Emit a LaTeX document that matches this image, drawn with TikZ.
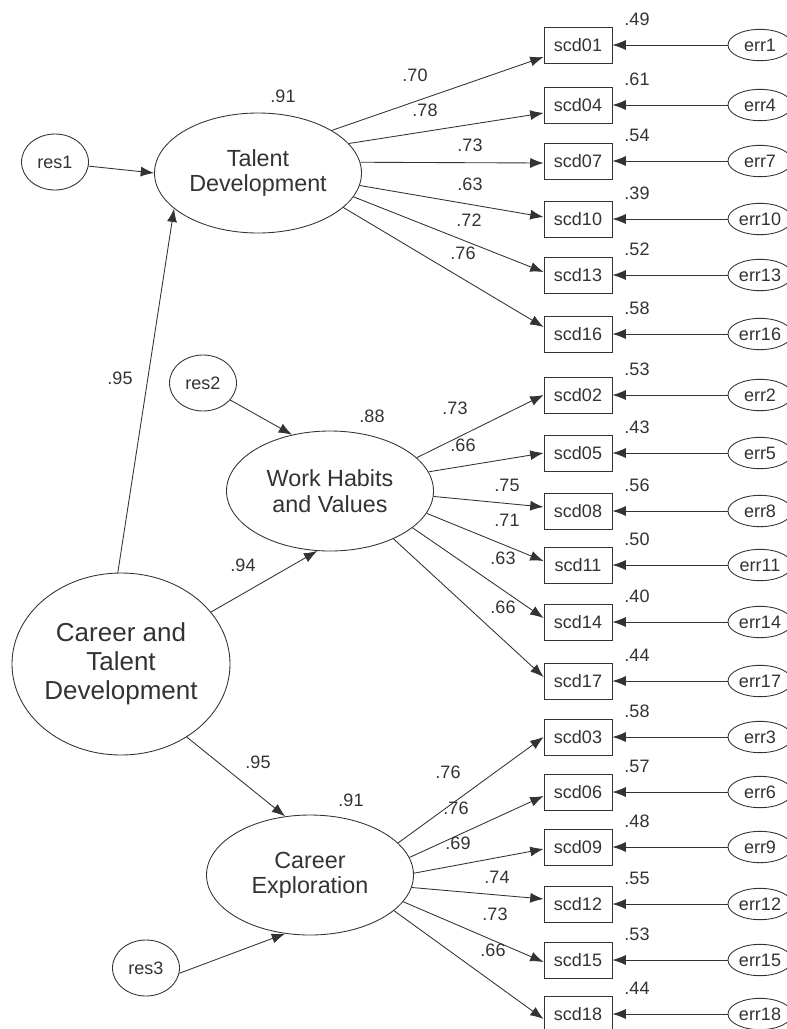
\documentclass[tikz,border=0pt]{standalone}
\usepackage{fontspec}
\setmainfont{Liberation Sans}
\usetikzlibrary{calc,arrows.meta,shapes.geometric}
\definecolor{ink}{gray}{0.2}
\begin{document}
\begin{tikzpicture}[x=0.75pt,y=-0.75pt,
  lat/.style={ellipse,draw=ink,line width=0.65pt,inner sep=0pt,text=ink,
    minimum width=155.25pt,minimum height=90pt,align=center,
    font=\fontsize{17.5}{19}\selectfont},
  big/.style={lat,minimum width=163.5pt,minimum height=136.5pt,
    font=\fontsize{19.5}{21.75}\selectfont},
  resn/.style={ellipse,draw=ink,line width=0.65pt,inner sep=0pt,text=ink,
    minimum width=50.25pt,minimum height=42pt,font=\fontsize{13.5}{15}\selectfont},
  errn/.style={ellipse,draw=ink,line width=0.65pt,inner sep=0pt,text=ink,
    minimum width=48pt,minimum height=23.5pt,font=\fontsize{13.5}{15}\selectfont},
  obs/.style={rectangle,draw=ink,line width=0.65pt,inner sep=0pt,text=ink,
    minimum width=51pt,minimum height=27pt,font=\fontsize{13.5}{15}\selectfont},
  lab/.style={inner sep=0pt,text=ink,font=\fontsize{13.5}{15}\selectfont},
  arr/.style={draw=ink,line width=0.65pt,-{Latex[length=10pt,width=7.5pt]}}]
\fill[white] (0,0) rectangle (787,1029);
\useasboundingbox (0,0) rectangle (787,1029);

% latent variables
\node[lat] (TD) at (258,173) {Talent\\Development};
\node[lat] (WHV) at (330,491) {Work Habits\\and Values};
\node[lat] (CE) at (310,875) {Career\\Exploration};
\node[big] (CTD) at (121,664) {Career and\\Talent\\Development};

% residuals
\node[resn] (res1) at (55,162) {res1};
\node[resn] (res2) at (203,383) {res2};
\node[resn] (res3) at (146,968) {res3};

% observed variables, errors, R^2
\foreach \n/\e/\y/\r in {01/1/45/.49, 04/4/105/.61, 07/7/161/.54, 10/10/219/.39,
    13/13/275/.52, 16/16/334/.58, 02/2/395/.53, 05/5/453/.43, 08/8/511/.56,
    11/11/565/.50, 14/14/622/.40, 17/17/681/.44, 03/3/737/.58, 06/6/792/.57,
    09/9/847/.48, 12/12/904/.55, 15/15/960/.53, 18/18/1014/.44} {
  \node[obs] (s\n) at (578,\y) {scd\n};
  \node[errn] (err\e) at (760,\y) {err\e};
  \draw[arr] (err\e) -- (s\n);
  \node[lab] at ($(s\n.center)+(59,-26)$) {\r};
}

% structural paths
\draw[arr] (res1.-7) -- (TD.west);
\draw[arr] (res2.-32) -- (WHV.124);
\draw[arr] (res3.-9) -- (CE.247);
\draw[arr] (CTD.92) -- (TD.203);
\draw[arr] (CTD.30) -- (WHV.258);
\draw[arr] (CTD.312) -- (CE.113);
\node[lab] at (120,378) {.95};
\node[lab] at (243,565) {.94};
\node[lab] at (258,762) {.95};

% squared multiple correlations of latents
\node[lab] at (283,96) {.91};
\node[lab] at (372,416) {.88};
\node[lab] at (351,800) {.91};

% loadings
\foreach \f/\n/\a/\t/\ld/\lx/\ly in {
    TD/01/30/12/.70/415/75, TD/04/18/8/.78/425/110, TD/07/6/2/.73/470/145,
    TD/10/-7/-2/.63/470/184, TD/13/-14/-3/.72/469/220, TD/16/-22/-7/.76/463/253,
    WHV/02/21/0/.73/455/408, WHV/05/11/0/.66/463/445, WHV/08/-3/-4/.75/507/485,
    WHV/11/-13/-4/.71/507/520, WHV/14/-24/-4/.63/503/558, WHV/17/-37/-4/.66/503/607,
    CE/03/20/0/.76/448/772, CE/06/10/4/.76/456/808, CE/09/1/2/.69/458/843,
    CE/12/-7/-5/.74/497/877, CE/15/-16/2/.73/495/914, CE/18/-23/5/.66/493/950} {
  \draw[arr] (\f.\a) -- ($(s\n.west)+(0,\t)$);
  \node[lab] at (\lx,\ly) {\ld};
}
\end{tikzpicture}
\end{document}
